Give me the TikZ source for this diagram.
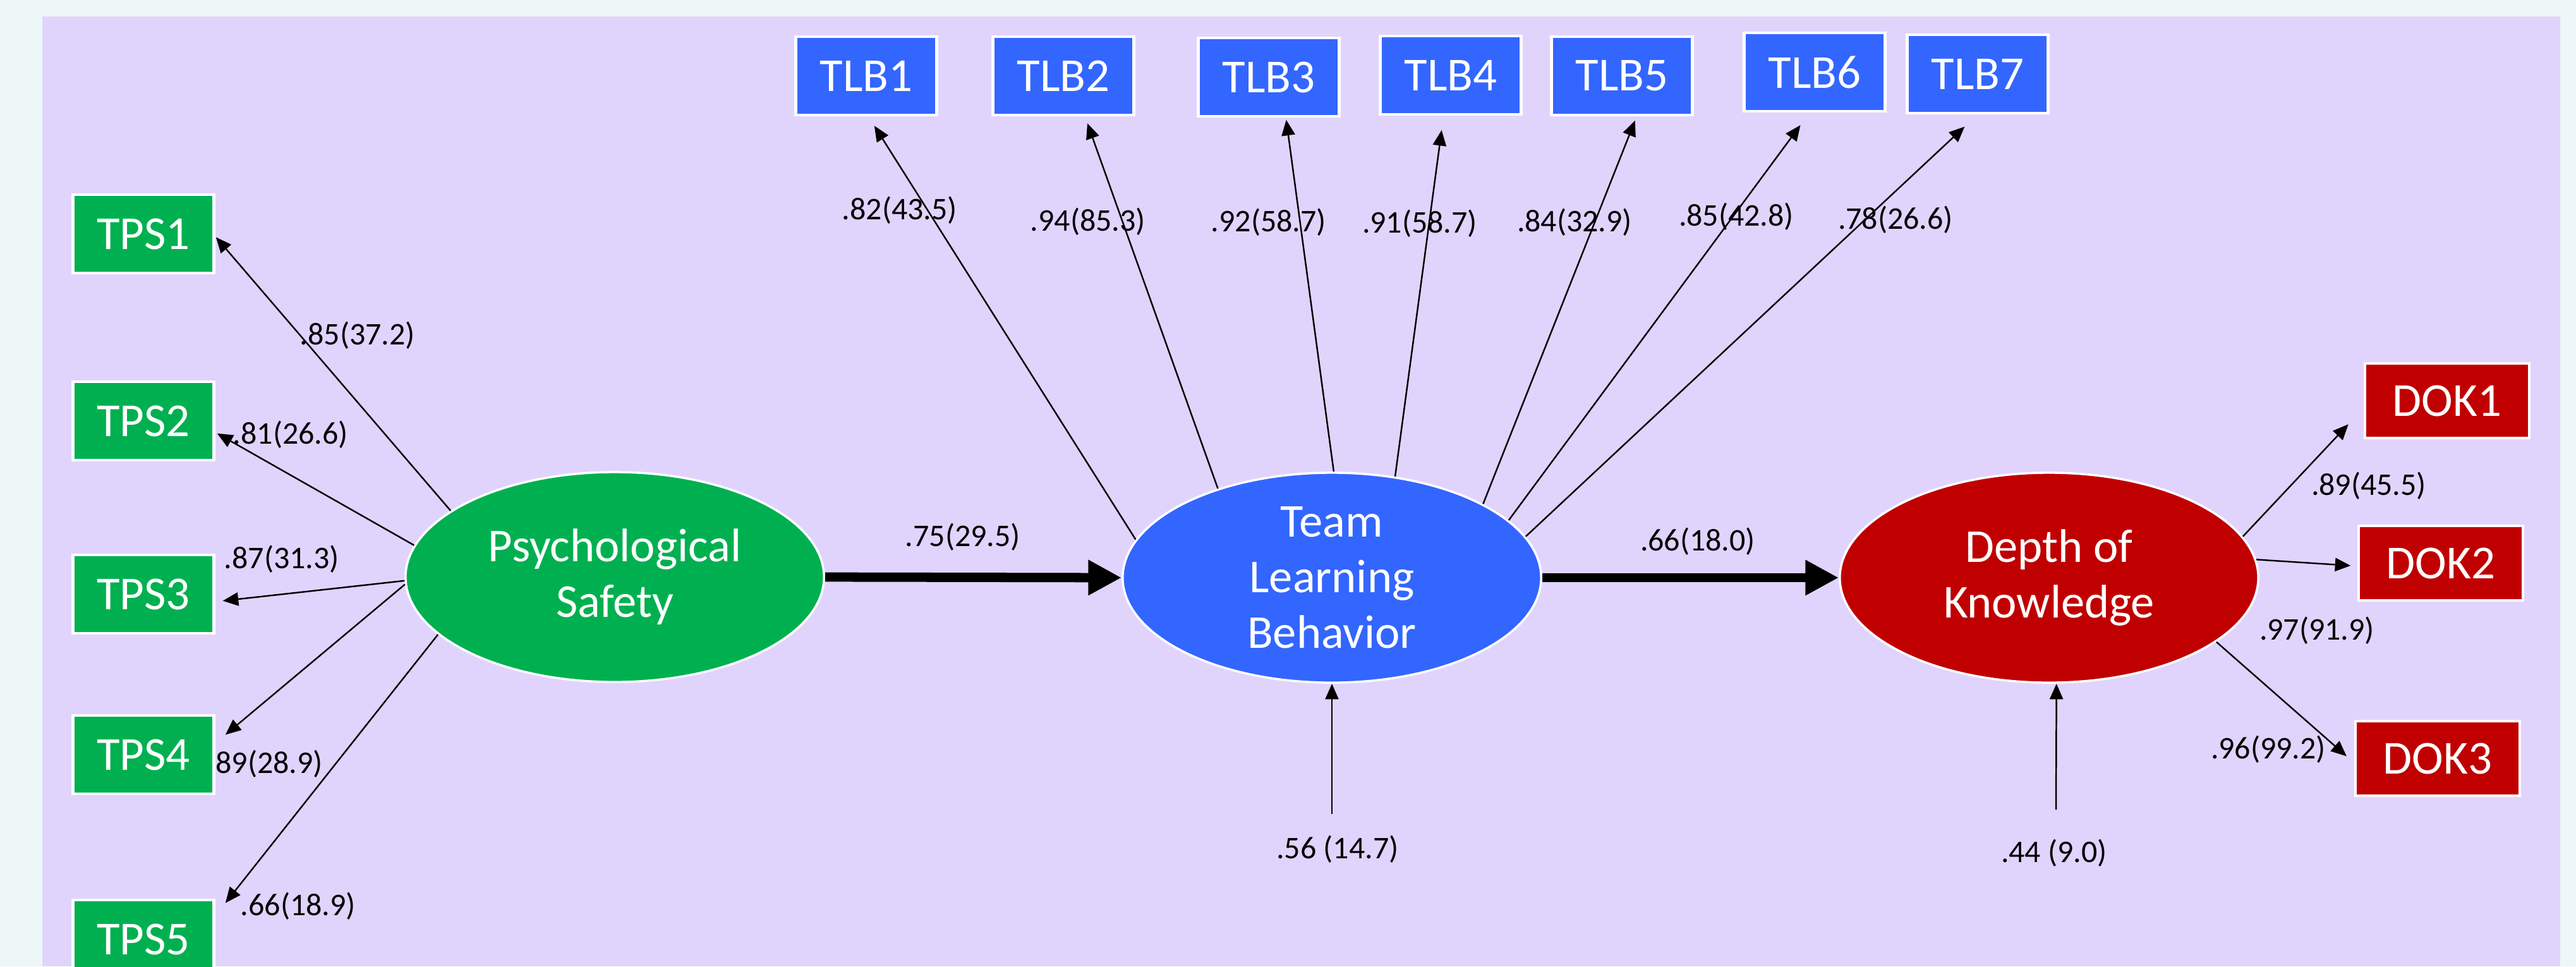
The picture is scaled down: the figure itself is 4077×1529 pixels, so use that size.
\documentclass[tikz,border=0pt]{standalone}
\usepackage{fontspec}
\setmainfont{Carlito}
\usetikzlibrary{positioning,shapes.geometric,arrows.meta}
\definecolor{pagebg}{HTML}{EEF7F7}
\definecolor{panel}{HTML}{E0D4FC}
\definecolor{psgreen}{HTML}{00B050}
\definecolor{tlbblue}{HTML}{3366FF}
\definecolor{dokred}{HTML}{C00000}
\tikzset{
  indicator/.style={rectangle, draw=white, line width=1.2pt, text=white, minimum width=2.23cm, minimum height=1.24cm, inner sep=0pt, font=\fontsize{21.3}{25}\selectfont},
  latent/.style={ellipse, draw=white, line width=1pt, text=white, minimum width=6.62cm, minimum height=3.32cm, inner sep=-8pt, align=center, font=\fontsize{21.2}{25}\selectfont},
  loading/.style={-{Triangle[length=7pt,width=6pt]}, line width=0.7pt},
  mainpath/.style={-{Triangle[length=15pt,width=15pt]}, line width=4.2pt},
  coef/.style={font=\fontsize{14.2}{16}\selectfont, inner sep=0pt}
}

\begin{document}
\begin{tikzpicture}[x=0.01cm,y=-0.01cm]
      \useasboundingbox (0,0) rectangle (4077,1529);
      \fill[pagebg] (0,0) rectangle (4077,1529);
      \fill[panel] (67,26) rectangle (4052,1529);

      % coefficients
      \node[coef] (c-tps1) at (566,531) {.85(37.2)};
      \node[coef] (c-tps2) at (460,688) {.81(26.6)};
      \node[coef] (c-tps3) at (446,885) {.87(31.3)};
      \node[coef] (c-tps4) at (420,1209) {.89(28.9)};
      \node[coef] (c-tps5) at (472,1434) {.66(18.9)};
      \node[coef] (c-tlb1) at (1424,333) {.82(43.5)};
      \node[coef] (c-tlb2) at (1722,351) {.94(85.3)};
      \node[coef] (c-tlb3) at (2008,352) {.92(58.7)};
      \node[coef] (c-tlb4) at (2247,354) {.91(58.7)};
      \node[coef] (c-tlb5) at (2492,352) {.84(32.9)};
      \node[coef] (c-tlb6) at (2748,343) {.85(42.8)};
      \node[coef] (c-tlb7) at (3000,348) {.78(26.6)};
      \node[coef] (c-ps-tlb) at (1524,850) {.75(29.5)};
      \node[coef] (c-tlb-dok) at (2687,857) {.66(18.0)};
      \node[coef] (c-e1) at (2117,1344) {.56 (14.7)};
      \node[coef] (c-dok1) at (3749,769) {.89(45.5)};
      \node[coef] (c-dok2) at (3667,998) {.97(91.9)};
      \node[coef] (c-dok3) at (3590,1186) {.96(99.2)};
      \node[coef] (c-e2) at (3251,1350) {.44 (9.0)};

      % latent variables
      \node[latent, fill=psgreen] (ps) at (973,913) {Psychological\\Safety};
      \node[latent, fill=tlbblue] (tlb) at (2108,914) {Team\\Learning\\Behavior};
      \node[latent, fill=dokred] (dok) at (3243,914) {Depth of\\Knowledge};

      % indicators
      \node[indicator, fill=psgreen] (tps1) at (227,370) {TPS1};
      \node[indicator, fill=psgreen] (tps2) at (227,666) {TPS2};
      \node[indicator, fill=psgreen] (tps3) at (227,940) {TPS3};
      \node[indicator, fill=psgreen] (tps4) at (227,1194) {TPS4};
      \node[indicator, fill=psgreen] (tps5) at (227,1486) {TPS5};

      \node[indicator, fill=tlbblue] (tlb1) at (1371,120) {TLB1};
      \node[indicator, fill=tlbblue] (tlb2) at (1683,120) {TLB2};
      \node[indicator, fill=tlbblue] (tlb3) at (2008,122) {TLB3};
      \node[indicator, fill=tlbblue] (tlb4) at (2296,119) {TLB4};
      \node[indicator, fill=tlbblue] (tlb5) at (2567,120) {TLB5};
      \node[indicator, fill=tlbblue] (tlb6) at (2872,114) {TLB6};
      \node[indicator, fill=tlbblue] (tlb7) at (3130,117) {TLB7};

      \node[indicator, fill=dokred, minimum width=2.6cm, minimum height=1.18cm] (dok1) at (3873,634) {DOK1};
      \node[indicator, fill=dokred, minimum width=2.6cm, minimum height=1.18cm] (dok2) at (3863,891) {DOK2};
      \node[indicator, fill=dokred, minimum width=2.6cm, minimum height=1.18cm] (dok3) at (3858,1200) {DOK3};

      % loadings
      \draw[loading, shorten >=0.5pt] (ps.158) -- (tps1.-2);
      \draw[loading, shorten >=1pt] (ps.171) -- (tps2.-9);
      \draw[loading, shorten >=3.4pt] (ps.181) -- (tps3.-6);
      \draw[loading, shorten >=6pt] (ps.182) -- (tps4.9);
      \draw[loading, shorten >=7.4pt] (ps.198) -- (tps5.18);

      \draw[loading, shorten >=5pt] (tlb.169) -- (tlb1.-87);
      \draw[loading, shorten >=3.3pt] (tlb.142) -- (tlb2.-62);
      \draw[loading, shorten >=1pt] (tlb.89) -- (tlb3.-67);
      \draw[loading, shorten >=6.5pt] (tlb.58) -- (tlb4.-100);
      \draw[loading, shorten >=2pt] (tlb.26) -- (tlb5.-70);
      \draw[loading, shorten >=7pt] (tlb.18) -- (tlb6.-97);
      \draw[loading, shorten >=8pt] (tlb.12) -- (tlb7.-90);

      \draw[loading, shorten >=10pt] (dok.12) -- (dok1.185);
      \draw[loading, shorten >=3pt] (dok.5) -- (dok2.182);
      \draw[loading, shorten >=4.5pt] (dok.-21) -- (dok3.183);

      % structural paths
      \draw[mainpath] (ps.east) -- (tlb.west);
      \draw[mainpath] (tlb.east) -- (dok.west);

      % residuals
      \coordinate (e1) at (2108,1288);
      \coordinate (e2) at (3254,1281);
      \draw[loading] (e1) -- (tlb.south);
      \draw[loading] (e2) -- (dok.-86);
\end{tikzpicture}
\end{document}
